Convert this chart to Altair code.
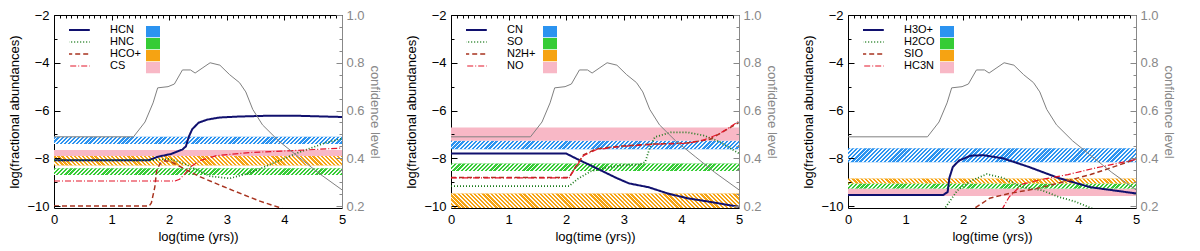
import altair as alt
import pandas as pd

# ---------------- data ----------------
time_ticks = [0, 1, 2, 3, 4, 5]
abund_ticks = [-10, -8, -6, -4, -2]
conf_ticks = [0.2, 0.4, 0.6, 0.8, 1.0]
band_time = [0, 5]

conf_time = [0.0, 1.38, 1.58, 1.72, 1.80, 1.98, 2.09, 2.23, 2.37, 2.45, 2.57, 2.71,
             2.88, 3.05, 3.22, 3.33, 3.45, 3.62, 3.90, 4.24, 4.58, 5.0]
conf_level = [0.49, 0.49, 0.552, 0.632, 0.695, 0.70, 0.711, 0.77, 0.77, 0.757, 0.777, 0.80,
              0.79, 0.75, 0.717, 0.678, 0.605, 0.54, 0.473, 0.407, 0.341, 0.268]

# panel 1
p1_species = ["HCN", "HNC", "HCO+", "CS"]
HCN_t = [0, 1.64, 1.81, 2.03, 2.23, 2.29, 2.34, 2.40, 2.51, 2.66, 2.88, 3.22, 3.67, 4.24, 5.0]
HCN_L = [-8.08, -8.08, -7.93, -7.82, -7.63, -7.5, -7.1, -6.78, -6.51, -6.38, -6.29, -6.25, -6.22, -6.22, -6.27]
HNC_t = [0, 1.7, 2.0, 2.26, 2.71, 3.05, 3.39, 3.79, 4.24, 4.69, 5.0]
HNC_L = [-8.08, -8.08, -8.02, -8.22, -8.75, -8.84, -8.62, -8.22, -7.76, -7.37, -7.17]
HCOp_t = [0, 1.65, 1.69, 1.75, 1.78, 1.84, 1.92, 2.03, 2.2, 2.54, 3.11, 3.56, 3.9, 4.5, 5.0]
HCOp_L = [-10.0, -10.0, -9.87, -9.21, -8.55, -8.22, -8.1, -8.14, -8.36, -8.78, -9.35, -9.78, -10.05, -10.6, -11.0]
CS_t = [0, 2.1, 2.18, 2.26, 2.37, 2.54, 2.82, 3.39, 3.95, 4.52, 5.0]
CS_L = [-8.95, -8.95, -8.88, -8.68, -8.36, -8.09, -7.89, -7.76, -7.7, -7.63, -7.57]
p1_band_lo = [-7.4, -8.7, -8.3, -7.9]
p1_band_hi = [-7.1, -8.42, -7.9, -7.65]

# panel 2
p2_species = ["CN", "SO", "N2H+", "NO"]
CN_t = [0, 2.0, 2.19, 2.53, 2.87, 3.09, 3.43, 3.76, 4.1, 4.44, 5.0]
CN_L = [-7.8, -7.8, -8.03, -8.42, -8.82, -9.05, -9.21, -9.47, -9.67, -9.8, -10.03]
SO_t = [0, 2.05, 2.19, 2.42, 2.7, 2.98, 3.26, 3.37, 3.46, 3.54, 3.82, 4.1, 4.38, 4.66, 5.0]
SO_L = [-9.16, -9.16, -8.88, -8.55, -8.39, -8.29, -8.26, -8.16, -7.5, -7.11, -6.91, -6.91, -7.04, -7.3, -7.8]
N2Hp_t = [0, 2.05, 2.19, 2.3, 2.53, 2.98, 3.54, 4.1, 4.5, 5.0]
N2Hp_L = [-8.8, -8.8, -8.25, -7.85, -7.6, -7.48, -7.4, -7.36, -7.2, -6.5]
NO_t = [0, 2.05, 2.19, 2.3, 2.53, 2.98, 3.54, 4.1, 4.38, 4.66, 5.0]
NO_L = [-8.82, -8.82, -8.29, -7.89, -7.63, -7.5, -7.41, -7.37, -7.24, -6.97, -6.45]
p2_band_lo = [-7.62, -8.53, -10.1, -7.26]
p2_band_hi = [-7.26, -8.22, -9.47, -6.71]

# panel 3
p3_species = ["H3O+", "H2CO", "SIO", "HC3N"]
H3Op_t = [0, 1.65, 1.73, 1.76, 1.82, 1.93, 2.13, 2.35, 2.69, 3.14, 3.65, 4.21, 5.0]
H3Op_L = [-9.54, -9.54, -9.41, -8.82, -8.36, -8.09, -7.89, -7.87, -8.0, -8.36, -8.82, -9.21, -9.47]
H2CO_t = [1.5, 1.7, 1.9, 2.13, 2.41, 2.69, 3.03, 3.37, 3.65, 3.93, 4.27, 4.6]
H2CO_L = [-10.8, -10.03, -9.34, -8.95, -8.66, -8.82, -9.21, -9.34, -9.61, -9.8, -10.13, -10.5]
SIO_t = [2.0, 2.21, 2.46, 2.8, 3.25, 3.7, 4.21, 4.61, 5.0]
SIO_L = [-10.5, -10.07, -9.67, -9.47, -9.28, -9.01, -8.68, -8.36, -8.03]
HC3N_t = [2.6, 2.69, 2.8, 3.03, 3.37, 3.82, 4.27, 5.0]
HC3N_L = [-10.6, -10.07, -9.61, -9.08, -8.88, -8.68, -8.42, -8.05]
p3_band_lo = [-8.16, -9.27, -9.05, -9.58]
p3_band_hi = [-7.58, -9.05, -8.85, -9.27]

# ---------------- style ----------------
W, H = 288, 193
Y_DOM = [-10.08, -2.0]
C_DOM = [0.192, 1.0]
FONT = "Liberation Sans"
line_colors = ["#10106e", "#1b7a1b", "#a8331f", "#e3162b"]
line_dashes = [[1, 0], [1, 2], [5, 3], [6, 2, 1, 2]]
line_widths = [2.0, 1.2, 1.3, 1.3]
band_colors = ["#2b93f0", "#35cc35", "#f6a312", "#f8b8c6"]
band_hatch = [1, 1, -1, 0]  # stripe direction, 0 = solid

x_minor = [round(i * 0.1, 1) for i in range(51)]
y_minor = [round(-10 + i * 0.5, 1) for i in range(17)]
c_minor = [round(0.2 + i * 0.05, 2) for i in range(17)]

X_MAJOR = "abs(datum.value - round(datum.value)) < 0.001"
Y_MAJOR = "round(datum.value*2) % 4 === 0"
C_MAJOR = "round(datum.value*20) % 4 === 0"

N_TILES = len(time_ticks) - 1          # hatch is tiled per unit of log(time)
TILE_W = W / N_TILES


def tick_dash(test, major=5, minor=3):
    return {"condition": {"test": test, "value": [major, 3000]}, "value": [minor, 3000]}


def stripes(h_px, direction, white_frac=0.45):
    """White diagonal stripes (transparent elsewhere) as a bbox-relative linear gradient."""
    w = TILE_W
    m = max(1, round(w / 4.0))
    period = w / m
    span = w + h_px
    k = h_px / w
    s = (1 + k) / (1 + k * k)
    clear, white = "rgba(255,255,255,0)", "rgba(255,255,255,0.95)"
    stops = []
    pos = 0.0
    while pos < span - 1e-9:
        a = pos / span
        b = min(1.0, (pos + period * (1 - white_frac)) / span)
        c = min(1.0, (pos + period) / span)
        stops += [alt.GradientStop(offset=a, color=clear),
                  alt.GradientStop(offset=b, color=clear),
                  alt.GradientStop(offset=b, color=white),
                  alt.GradientStop(offset=c, color=white)]
        pos += period
    if direction > 0:
        return alt.LinearGradient(gradient="linear", stops=stops, x1=0, y1=0, x2=s, y2=s * k)
    return alt.LinearGradient(gradient="linear", stops=stops, x1=0, y1=1, x2=s, y2=1 - s * k)


xscale = alt.Scale(domain=[time_ticks[0], time_ticks[-1]], nice=False)
yscale = alt.Scale(domain=Y_DOM, nice=False, zero=False)
cscale = alt.Scale(domain=C_DOM, nice=False, zero=False)

x_axis = alt.Axis(values=x_minor, labelExpr=f"{X_MAJOR} ? format(datum.value, 'd') : ''",
                  ticks=False, domain=False, grid=True,
                  gridColor="black", gridOpacity=1, gridDash=tick_dash(X_MAJOR, 5, 3),
                  title="log(time (yrs))", labelPadding=5, labelOverlap=False,
                  labelFlush=False, zindex=1, titlePadding=4)
y_axis = alt.Axis(orient="left", values=y_minor, labelExpr=f"{Y_MAJOR} ? datum.label : ''",
                  format="d", ticks=False, domain=False, grid=True, gridColor="black",
                  gridOpacity=1, gridDash=tick_dash(Y_MAJOR, 6, 3),
                  title="log(fractional abundances)", labelPadding=5, labelOverlap=False,
                  labelFlush=False, zindex=1, titlePadding=5)
c_axis = alt.Axis(orient="right", values=c_minor, labelExpr=f"{C_MAJOR} ? datum.label : ''",
                  format=".1f", ticks=False, domain=True, domainColor="#888888", grid=True,
                  gridColor="#888888", gridOpacity=1, gridDash=tick_dash(C_MAJOR, 6, 3),
                  labelColor="#888888", titleColor="#888888", title="confidence level",
                  labelPadding=4, labelOverlap=False, labelFlush=False, zindex=1, titlePadding=3)

conf_df = pd.DataFrame({"t": conf_time, "c": conf_level})


def panel(species, curves, band_lo, band_hi):
    rows = []
    for sp, (ts, ls) in zip(species, curves):
        for i, (t, l) in enumerate(zip(ts, ls)):
            rows.append({"species": sp, "t": t, "L": l, "i": i})
    lines_df = pd.DataFrame(rows)
    band_names = [sp + " observed" for sp in species]
    bands_df = pd.DataFrame({"band": band_names, "lo": band_lo, "hi": band_hi,
                             "t0": band_time[0], "t1": band_time[1]})

    line_legend = alt.Legend(orient="none", legendX=15, legendY=9, title=None,
                             symbolType="M-3.4,0H3.4", symbolSize=81, labelOffset=30,
                             labelFont=FONT, labelFontSize=11, labelColor="black",
                             clipHeight=12, rowPadding=0, padding=0)
    fill_legend = alt.Legend(orient="none", legendX=92, legendY=11, title=None,
                             symbolType="M-3.1,-1.3H3.1V1.3H-3.1Z", symbolSize=100,
                             symbolStrokeWidth=0, symbolOpacity=1, labelExpr="''",
                             labelFontSize=1, clipHeight=11.3, rowPadding=0, padding=0)

    X = lambda f: alt.X(f, scale=xscale, axis=x_axis)
    Y = lambda f: alt.Y(f, scale=yscale, axis=y_axis)

    base = alt.Chart(bands_df).mark_rect(clip=True).encode(
        x=X("t0:Q"), x2="t1:Q", y=Y("lo:Q"), y2="hi:Q",
        fill=alt.Fill("band:N", scale=alt.Scale(domain=band_names, range=band_colors),
                      legend=fill_legend),
    )
    layers = [base]
    for name, lo, hi, d in zip(band_names, band_lo, band_hi, band_hatch):
        if d == 0:
            continue
        h_px = (hi - lo) / (Y_DOM[1] - Y_DOM[0]) * H
        tiles = pd.DataFrame({"band": name, "lo": lo, "hi": hi,
                              "t0": time_ticks[:-1], "t1": time_ticks[1:]})
        ov = alt.Chart(tiles).mark_rect(clip=True, fill=stripes(h_px, d)).encode(
            x=X("t0:Q"), x2="t1:Q", y=Y("lo:Q"), y2="hi:Q")
        layers.append(ov)

    lines = alt.Chart(lines_df).mark_line(clip=True).encode(
        x=X("t:Q"), y=Y("L:Q"), order="i:Q",
        stroke=alt.Stroke("species:N", scale=alt.Scale(domain=species, range=line_colors),
                          legend=line_legend),
        strokeDash=alt.StrokeDash("species:N", scale=alt.Scale(domain=species, range=line_dashes),
                                  legend=line_legend),
        strokeWidth=alt.StrokeWidth("species:N", scale=alt.Scale(domain=species, range=line_widths),
                                    legend=line_legend),
    )
    layers.append(lines)
    A = alt.layer(*layers)

    B = alt.Chart(conf_df).mark_line(color="#808080", strokeWidth=1, clip=True).encode(
        x=X("t:Q"),
        y=alt.Y("c:Q", scale=cscale, axis=c_axis),
    )
    return alt.layer(A, B).resolve_scale(y="independent").properties(width=W, height=H)


p1 = panel(p1_species, [(HCN_t, HCN_L), (HNC_t, HNC_L), (HCOp_t, HCOp_L), (CS_t, CS_L)],
           p1_band_lo, p1_band_hi)
p2 = panel(p2_species, [(CN_t, CN_L), (SO_t, SO_L), (N2Hp_t, N2Hp_L), (NO_t, NO_L)],
           p2_band_lo, p2_band_hi)
p3 = panel(p3_species, [(H3Op_t, H3Op_L), (H2CO_t, H2CO_L), (SIO_t, SIO_L), (HC3N_t, HC3N_L)],
           p3_band_lo, p3_band_hi)

chart = alt.hconcat(p1, p2, p3, spacing=24).resolve_scale(
    x="independent", y="independent", fill="independent", stroke="independent",
    strokeDash="independent", strokeWidth="independent"
).resolve_legend(
    fill="independent", stroke="independent", strokeDash="independent", strokeWidth="independent"
).properties(padding={"left": 0, "top": 0, "right": 3, "bottom": 0}).configure_view(
    stroke="black", strokeWidth=1).configure_axis(
    labelFont=FONT, titleFont=FONT, labelFontSize=13, titleFontSize=13, titleFontWeight="normal",
    labelColor="black", titleColor="black"
)

chart.save("out.html", embed_options={"renderer": "svg", "actions": False})
